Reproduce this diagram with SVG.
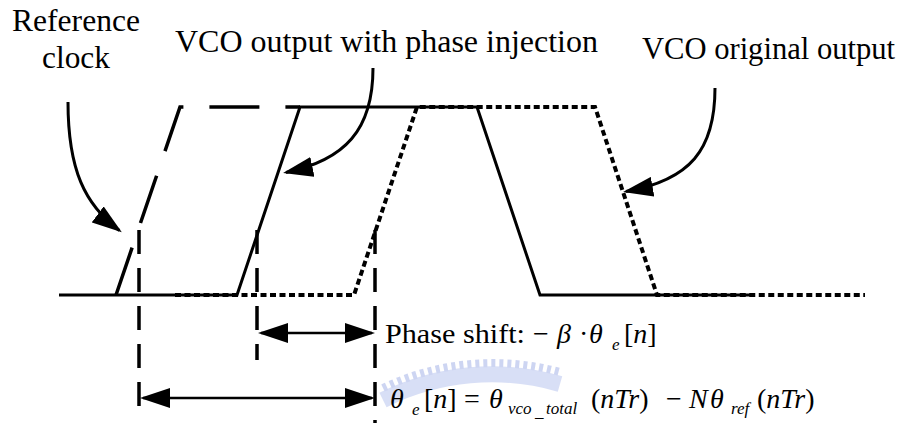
<svg xmlns="http://www.w3.org/2000/svg" width="912" height="423" viewBox="0 0 912 423">
  <style>
    .lbl { font-family: "Liberation Serif", "Times New Roman", serif; font-size: 31px; fill: #000; }
    .eq { font-family: "Liberation Serif", "Times New Roman", serif; font-size: 28px; fill: #000; }
    .it { font-style: italic; }
    .sub { font-size: 17px; font-style: italic; }
    .wave { fill: none; stroke: #000; stroke-width: 3; stroke-linejoin: miter; }
    .dot { fill: none; stroke: #000; stroke-width: 4; stroke-dasharray: 6 3.5; }
    .clk { fill: none; stroke: #000; stroke-width: 3.5; stroke-dasharray: 50 26; }
    .vdash { fill: none; stroke: #000; stroke-width: 3.5; stroke-dasharray: 24 14; }
    .arr { fill: none; stroke: #000; stroke-width: 2.6; }
    .carr { fill: none; stroke: #000; stroke-width: 3; }
  </style>
  <defs>
    <marker id="ah" viewBox="0 0 30 20" refX="27" refY="10" markerWidth="30" markerHeight="20" markerUnits="userSpaceOnUse" orient="auto-start-reverse">
      <path d="M0,0 L30,10 L0,20 z" fill="#000"/>
    </marker>
  </defs>
  <rect width="912" height="423" fill="#fff"/>

  <g id="watermark" opacity="0.4">
    <path d="M383,400 A244,244 0 0 1 560,384" fill="none" stroke="#9fb0ea" stroke-width="16"/>
    <path d="M383,388 A256,256 0 0 1 560,372" fill="none" stroke="#8597e0" stroke-width="8" stroke-dasharray="4 4"/>
  </g>

  <g id="waveforms">
    <path id="vco-original" class="dot" d="M175,295 H354 L417,107 H595 L657,295 H865"/>
    <path id="vco-injected" class="wave" d="M59,295 H237 L300,107 H477 L540,295 H750"/>
    <path id="ref-clock" class="clk" d="M116,295 L180,107 H300"/>
  </g>

  <g id="guides">
    <line class="vdash" x1="139" y1="230" x2="139" y2="410"/>
    <line class="vdash" x1="257" y1="230" x2="257" y2="360"/>
    <line class="vdash" x1="375" y1="230" x2="375" y2="423"/>
  </g>

  <g id="connectors">
    <path class="arr" d="M261,333 H372" marker-start="url(#ah)" marker-end="url(#ah)"/>
    <path class="arr" d="M143,398 H372" marker-start="url(#ah)" marker-end="url(#ah)"/>
    <path class="carr" d="M68,102 C68,170 85,205 119.4,230.5" marker-end="url(#ah)"/>
    <path class="carr" d="M373,68 C373,130 345,160 286,172.5" marker-end="url(#ah)"/>
    <path class="carr" d="M715,88 C715,150 690,180 626,191.5" marker-end="url(#ah)"/>
  </g>

  <g id="label-ref">
    <text class="lbl" x="12" y="31" textLength="128" lengthAdjust="spacingAndGlyphs">Reference</text>
    <text class="lbl" x="42" y="68" textLength="68" lengthAdjust="spacingAndGlyphs">clock</text>
  </g>
  <g id="label-injected">
    <text class="lbl" x="175" y="52" textLength="423" lengthAdjust="spacingAndGlyphs">VCO output with phase injection</text>
  </g>
  <g id="label-original">
    <text class="lbl" x="642" y="59" textLength="253" lengthAdjust="spacingAndGlyphs">VCO original output</text>
  </g>

  <g id="label-phase-shift">
    <text class="eq" y="343"><tspan x="385" textLength="140" lengthAdjust="spacingAndGlyphs">Phase shift:</tspan><tspan x="533">−</tspan><tspan x="557" class="it">β</tspan><tspan x="579">·</tspan><tspan x="589" class="it">θ</tspan><tspan x="612" y="350" class="sub">e</tspan><tspan x="624" y="343">[</tspan><tspan class="it">n</tspan><tspan>]</tspan></text>
  </g>

  <g id="label-error">
    <text class="eq" y="408"><tspan x="390" class="it">θ</tspan><tspan x="412" y="415" class="sub">e</tspan><tspan x="424" y="408">[</tspan><tspan class="it">n</tspan><tspan>]</tspan><tspan x="464">=</tspan><tspan x="489" class="it">θ</tspan><tspan x="508" y="414" class="sub">vco</tspan><tspan x="535" y="417" class="sub">_</tspan><tspan x="546" y="414" class="sub">total</tspan><tspan x="591" y="408">(</tspan><tspan class="it">nTr</tspan><tspan>)</tspan><tspan x="666">−</tspan><tspan x="689" class="it">N</tspan><tspan x="710" class="it">θ</tspan><tspan x="731" y="414" class="sub">ref</tspan><tspan x="757" y="408">(</tspan><tspan class="it">nTr</tspan><tspan>)</tspan></text>
  </g>
</svg>
